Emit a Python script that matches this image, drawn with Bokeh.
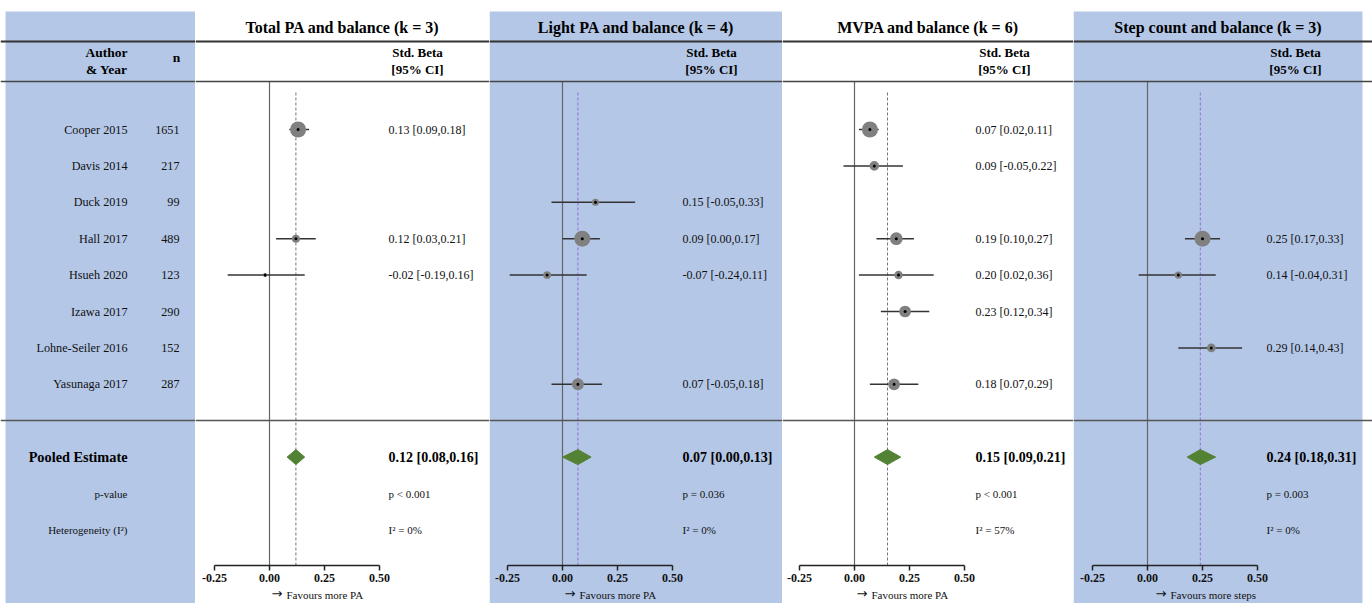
import math
from bokeh.plotting import figure
from bokeh.layouts import row
from bokeh.models import Range1d, Span, LinearAxis, FixedTicker, NumeralTickFormatter
from bokeh.core.properties import value
from bokeh.embed import file_html
from bokeh.resources import INLINE

# ---------------- data ----------------
studies = ["Cooper 2015", "Davis 2014", "Duck 2019", "Hall 2017",
           "Hsueh 2020", "Izawa 2017", "Lohne-Seiler 2016", "Yasunaga 2017"]
sample_n = [1651, 217, 99, 489, 123, 290, 152, 287]

panel_titles = ["Total PA and balance (k = 3)", "Light PA and balance (k = 4)",
                "MVPA and balance (k = 6)", "Step count and balance (k = 3)"]
favours_labels = ["Favours more PA", "Favours more PA",
                  "Favours more PA", "Favours more steps"]

total_studies = ["Cooper 2015", "Hall 2017", "Hsueh 2020"]
total_beta = [0.13, 0.12, -0.02]
total_lo = [0.09, 0.03, -0.19]
total_hi = [0.18, 0.21, 0.16]
total_weight = [76, 19, 5]

light_studies = ["Duck 2019", "Hall 2017", "Hsueh 2020", "Yasunaga 2017"]
light_beta = [0.15, 0.09, -0.07, 0.07]
light_lo = [-0.05, 0.00, -0.24, -0.05]
light_hi = [0.33, 0.17, 0.11, 0.18]
light_weight = [10, 50, 12, 28]

mvpa_studies = ["Cooper 2015", "Davis 2014", "Hall 2017", "Hsueh 2020", "Izawa 2017", "Yasunaga 2017"]
mvpa_beta = [0.07, 0.09, 0.19, 0.20, 0.23, 0.18]
mvpa_lo = [0.02, -0.05, 0.10, 0.02, 0.12, 0.07]
mvpa_hi = [0.11, 0.22, 0.27, 0.36, 0.34, 0.29]
mvpa_weight = [29.8, 10.7, 19.0, 8.5, 16.0, 16.0]

steps_studies = ["Hall 2017", "Hsueh 2020", "Lohne-Seiler 2016"]
steps_beta = [0.25, 0.14, 0.29]
steps_lo = [0.17, -0.04, 0.14]
steps_hi = [0.33, 0.31, 0.43]
steps_weight = [66, 14, 20]

pooled_beta = [0.12, 0.07, 0.15, 0.24]
pooled_lo = [0.08, 0.00, 0.09, 0.18]
pooled_hi = [0.16, 0.13, 0.21, 0.31]
p_values = ["p < 0.001", "p = 0.036", "p < 0.001", "p = 0.003"]
i2_values = ["I\u00b2 = 0%", "I\u00b2 = 0%", "I\u00b2 = 57%", "I\u00b2 = 0%"]
tick_values = [-0.25, 0.0, 0.25, 0.50]

# ---------------- layout / style ----------------
BLUE = "#b4c7e7"
SERIF = value("Liberation Serif")
H = 603
ROW0_PX, ROW_H = 129.0, 36.4
PX_PER_UNIT = 220.0


def yrow(py):
    return (py - ROW0_PX) / ROW_H


Y_TOP, Y_BOT = yrow(0), yrow(H)
POOLED_ROW, P_ROW, I2_ROW = 9, 10, 11
LINE1, LINE2, LINE3 = yrow(41), yrow(81), yrow(420)
AXIS_Y = yrow(565)


def base_fig(width, xr):
    p = figure(width=width, height=H, x_range=xr, y_range=Range1d(Y_BOT, Y_TOP),
               output_backend="svg", toolbar_location=None, min_border=0,
               x_axis_type=None, y_axis_type=None, outline_line_color=None,
               background_fill_color="white", border_fill_color="white")
    p.grid.visible = False
    return p


def add_rules(p):
    p.add_layout(Span(location=LINE1, dimension="width", line_color="#333333", line_width=2))
    p.add_layout(Span(location=LINE2, dimension="width", line_color="#444444", line_width=1.5))
    p.add_layout(Span(location=LINE3, dimension="width", line_color="#555555", line_width=1.5))


# ---------------- label column ----------------
lab = base_fig(195, Range1d(0, 195))
lab.quad(left=5, right=195, top=yrow(11), bottom=Y_BOT, fill_color=BLUE, line_color=None)
add_rules(lab)
lab.text(x=[127, 127], y=[yrow(52), yrow(69)], text=["Author", "& Year"], text_font=SERIF,
         text_font_style="bold", text_font_size="13.5px", text_align="right", text_baseline="middle")
lab.text(x=[176], y=[yrow(57)], text=["n"], text_font=SERIF, text_font_style="bold",
         text_font_size="13.5px", text_align="center", text_baseline="middle")
rows_idx = list(range(len(studies)))
lab.text(x=[127] * len(studies), y=rows_idx, text=studies, text_font=SERIF,
         text_font_size="12.2px", text_align="right", text_baseline="middle", text_color="#111111")
lab.text(x=[179] * len(studies), y=rows_idx, text=[str(v) for v in sample_n], text_font=SERIF,
         text_font_size="12.2px", text_align="right", text_baseline="middle", text_color="#111111")
lab.text(x=[127], y=[POOLED_ROW], text=["Pooled Estimate"], text_font=SERIF, text_font_style="bold",
         text_font_size="14.3px", text_align="right", text_baseline="middle")
lab.text(x=[127, 127], y=[P_ROW, I2_ROW], text=["p-value", "Heterogeneity (I\u00b2)"], text_font=SERIF,
         text_font_size="11px", text_align="right", text_baseline="middle", text_color="#111111")

# ---------------- panels ----------------
panel_data = [
    (total_studies, total_beta, total_lo, total_hi, total_weight),
    (light_studies, light_beta, light_lo, light_hi, light_weight),
    (mvpa_studies, mvpa_beta, mvpa_lo, mvpa_hi, mvpa_weight),
    (steps_studies, steps_beta, steps_lo, steps_hi, steps_weight),
]
panel_widths = [294, 293, 291, 299]
panel_zero_px = [74, 73, 72, 74]
panel_blue = [False, True, False, True]
panel_fill_px = [294, 293, 291, 289]
dash_colors = ["#777777", "#8f6fd6", "#777777", "#8f6fd6"]
arrow_px = [2, 2, 2, 8]

figs = [lab]
for i in range(4):
    W, Z = panel_widths[i], panel_zero_px[i]

    def dx(px, Z=Z):
        return (px - Z) / PX_PER_UNIT

    p = base_fig(W, Range1d(dx(0), dx(W)))
    if panel_blue[i]:
        p.quad(left=dx(0), right=dx(panel_fill_px[i]), top=yrow(11), bottom=Y_BOT,
               fill_color=BLUE, line_color=None)
    add_rules(p)

    # headers
    p.text(x=[dx(panel_fill_px[i] / 2)], y=[yrow(27)], text=[panel_titles[i]], text_font=SERIF,
           text_font_style="bold", text_font_size="16px", text_align="center", text_baseline="middle")
    p.text(x=[dx(222)] * 2, y=[yrow(52), yrow(69)], text=["Std. Beta", "[95% CI]"], text_font=SERIF,
           text_font_style="bold", text_font_size="13px", text_align="center", text_baseline="middle")

    # reference lines
    p.segment(x0=[0], y0=[LINE2], x1=[0], y1=[AXIS_Y], line_color="#666666", line_width=1.2)
    p.segment(x0=[pooled_beta[i]], y0=[yrow(92)], x1=[pooled_beta[i]], y1=[AXIS_Y],
              line_color=dash_colors[i], line_width=1, line_dash="3 2")

    names, beta, lo, hi, wt = panel_data[i]
    ys = [studies.index(s) for s in names]
    wmax = max(wt)
    sizes = [16 * math.sqrt(w / wmax) for w in wt]
    p.segment(x0=lo, y0=ys, x1=hi, y1=ys, line_color="#333333", line_width=1.5)
    p.scatter(x=beta, y=ys, size=sizes, marker="circle", fill_color="#808080", line_color=None)
    p.scatter(x=beta, y=ys, size=3, marker="circle", fill_color="black", line_color=None)
    labels = [f"{b:.2f} [{l:.2f},{h:.2f}]" for b, l, h in zip(beta, lo, hi)]
    p.text(x=[dx(193)] * len(ys), y=ys, text=labels, text_font=SERIF, text_font_size="12px",
           text_align="left", text_baseline="middle", text_color="#111111")

    # pooled
    dh = 7.5 / ROW_H
    p.patch(x=[pooled_lo[i], pooled_beta[i], pooled_hi[i], pooled_beta[i]],
            y=[POOLED_ROW, POOLED_ROW - dh, POOLED_ROW, POOLED_ROW + dh],
            fill_color="#548235", line_color="#548235")
    p.text(x=[dx(193)], y=[POOLED_ROW],
           text=[f"{pooled_beta[i]:.2f} [{pooled_lo[i]:.2f},{pooled_hi[i]:.2f}]"],
           text_font=SERIF, text_font_style="bold", text_font_size="14px",
           text_align="left", text_baseline="middle")
    p.text(x=[dx(193)] * 2, y=[P_ROW, I2_ROW], text=[p_values[i], i2_values[i]], text_font=SERIF,
           text_font_size="11px", text_align="left", text_baseline="middle", text_color="#111111")

    # axis
    ax = LinearAxis(fixed_location=AXIS_Y, bounds=(tick_values[0], tick_values[-1]),
                    ticker=FixedTicker(ticks=tick_values), formatter=NumeralTickFormatter(format="0.00"),
                    major_tick_in=0, major_tick_out=5, minor_tick_line_color=None,
                    axis_line_width=1.5, axis_line_color="#222222", major_tick_line_width=1.5,
                    major_tick_line_color="#222222", major_label_text_font="Liberation Serif",
                    major_label_text_font_style="bold", major_label_text_font_size="12px",
                    major_label_standoff=3, major_label_text_color="#111111")
    p.add_layout(ax, "below")
    ax_x = Z + arrow_px[i]
    p.text(x=[dx(ax_x)], y=[yrow(593)], text=["\u2192"], text_font=value("DejaVu Sans"),
           text_font_size="13px", text_align="left", text_baseline="middle", text_color="#111111")
    p.text(x=[dx(ax_x + 15)], y=[yrow(594)], text=[favours_labels[i]], text_font=SERIF,
           text_font_size="11px", text_align="left", text_baseline="middle", text_color="#111111")
    figs.append(p)

layout = row(*figs, spacing=0)
open("out.html", "w").write(file_html(layout, INLINE))
